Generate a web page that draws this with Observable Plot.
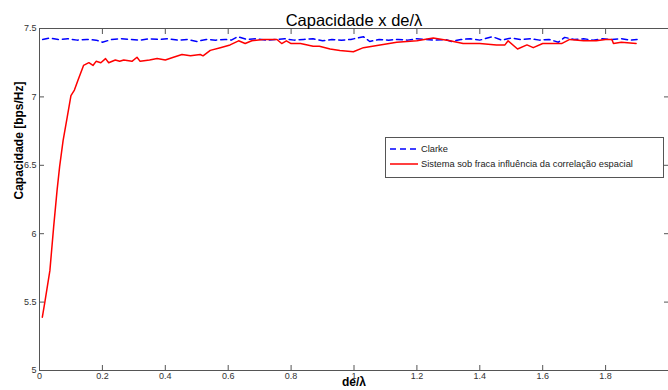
<!DOCTYPE html>
<html><head><meta charset="utf-8">
<script src="https://cdn.jsdelivr.net/npm/d3@7"></script>
<script src="https://cdn.jsdelivr.net/npm/@observablehq/plot@0.6"></script>
<style>body{margin:0;background:#fff}svg{display:block}</style>
</head><body><div id="chart"></div>
<script>
const titleText = "Capacidade x de/λ";
const xLabel = "de/λ";
const yLabel = "Capacidade [bps/Hz]";
const seriesNames = ["Clarke", "Sistema sob fraca influência da correlação espacial"];
const xTicks = [0, 0.2, 0.4, 0.6, 0.8, 1, 1.2, 1.4, 1.6, 1.8];
const xTickLabels = ["0", "0.2", "0.4", "0.6", "0.8", "1", "1.2", "1.4", "1.6", "1.8"];
const yTicks = [5, 5.5, 6, 6.5, 7, 7.5];
const yTickLabels = ["5", "5.5", "6", "6.5", "7", "7.5"];

const blueX = [0.01,0.03,0.06,0.09,0.12,0.15,0.18,0.20,0.23,0.26,0.29,0.32,0.35,0.38,0.41,0.44,0.47,0.50,0.53,0.56,0.59,0.61,0.63,0.66,0.69,0.72,0.75,0.78,0.81,0.84,0.87,0.90,0.93,0.96,0.99,1.03,1.05,1.08,1.11,1.14,1.17,1.20,1.23,1.26,1.29,1.31,1.34,1.37,1.40,1.44,1.47,1.50,1.53,1.56,1.59,1.62,1.65,1.67,1.70,1.73,1.76,1.79,1.82,1.85,1.88,1.90];
const blueY = [7.42,7.43,7.42,7.425,7.415,7.42,7.415,7.40,7.42,7.425,7.42,7.415,7.425,7.42,7.425,7.415,7.42,7.405,7.42,7.415,7.42,7.415,7.44,7.42,7.425,7.415,7.42,7.425,7.415,7.42,7.425,7.41,7.42,7.415,7.42,7.44,7.405,7.42,7.415,7.42,7.415,7.425,7.42,7.415,7.42,7.405,7.42,7.425,7.415,7.44,7.415,7.43,7.42,7.425,7.415,7.42,7.40,7.435,7.42,7.425,7.415,7.425,7.42,7.425,7.415,7.42];

const redX = [0.009,0.017,0.033,0.045,0.056,0.064,0.075,0.088,0.10,0.111,0.122,0.14,0.157,0.17,0.18,0.195,0.21,0.22,0.241,0.255,0.268,0.294,0.31,0.32,0.35,0.374,0.40,0.426,0.453,0.48,0.511,0.52,0.543,0.575,0.606,0.633,0.654,0.675,0.712,0.755,0.77,0.785,0.80,0.83,0.87,0.89,0.924,0.955,0.998,1.03,1.083,1.136,1.2,1.252,1.305,1.347,1.40,1.453,1.48,1.49,1.52,1.55,1.57,1.60,1.64,1.66,1.686,1.73,1.77,1.80,1.82,1.825,1.85,1.897];
const redY = [5.39,5.50,5.73,6.05,6.32,6.49,6.68,6.85,7.01,7.05,7.12,7.23,7.25,7.23,7.26,7.25,7.28,7.25,7.27,7.26,7.27,7.26,7.29,7.26,7.27,7.28,7.27,7.29,7.31,7.30,7.31,7.30,7.34,7.36,7.38,7.41,7.39,7.41,7.42,7.42,7.39,7.41,7.39,7.39,7.37,7.37,7.35,7.34,7.33,7.36,7.38,7.40,7.41,7.43,7.41,7.39,7.39,7.38,7.38,7.41,7.35,7.38,7.36,7.39,7.39,7.39,7.42,7.41,7.41,7.42,7.42,7.39,7.40,7.39];

const blue = blueX.map((x, i) => ({x, y: blueY[i]}));
const red = redX.map((x, i) => ({x, y: redY[i]}));
const font = "Liberation Sans, Arial, sans-serif";
const axisColor = "#555";

const plot = Plot.plot({
  width: 668, height: 390,
  marginLeft: 39, marginRight: 0, marginTop: 28, marginBottom: 20,
  style: {fontFamily: font, fontSize: "9px", color: "#333", background: "#fff"},
  x: {domain: [0, 2]},
  y: {domain: [5, 7.5]},
  marks: [
    Plot.frame({stroke: axisColor}),
    Plot.axisX({anchor: "bottom", ticks: xTicks, tickFormat: (d) => xTickLabels[xTicks.indexOf(d)], tickSize: -5, tickPadding: 7, stroke: axisColor, label: null, fill: "#333"}),
    Plot.axisX({anchor: "top", ticks: xTicks, tickFormat: () => "", tickSize: -5, stroke: axisColor, label: null}),
    Plot.axisY({anchor: "left", ticks: yTicks, tickFormat: (d) => yTickLabels[yTicks.indexOf(d)], tickSize: -5, tickPadding: 8, stroke: axisColor, label: null, fill: "#333"}),
    Plot.axisY({anchor: "right", ticks: yTicks, tickFormat: () => "", tickSize: -5, stroke: axisColor, label: null}),
    Plot.line(blue, {x: "x", y: "y", stroke: "#0000ff", strokeWidth: 1.5, strokeDasharray: "6,4"}),
    Plot.line(red, {x: "x", y: "y", stroke: "#ff0000", strokeWidth: 1.5}),
    Plot.text([titleText], {text: (d) => d, frameAnchor: "top", dy: -14, fontSize: 16.5, fill: "#000"}),
    Plot.text([xLabel], {text: (d) => d, frameAnchor: "bottom", dy: 15, fontSize: 12, fontWeight: "bold", fill: "#000"}),
    Plot.text([yLabel], {text: (d) => d, frameAnchor: "left", dx: -20, rotate: -90, fontSize: 12, fontWeight: "bold", fill: "#000"})
  ]
});
document.getElementById("chart").append(plot);

// legend box
const svg = d3.select(plot);
const lg = svg.append("g").attr("font-family", font).attr("font-size", 9.3).attr("text-anchor", "start");
lg.append("rect").attr("x", 385.5).attr("y", 137.5).attr("width", 278).attr("height", 40).attr("fill", "#fff").attr("stroke", axisColor);
const legendColors = ["#0000ff", "#ff0000"];
const legendDash = ["6,4", null];
seriesNames.forEach((name, i) => {
  const yy = 149 + i * 15;
  lg.append("line").attr("x1", 390).attr("x2", 418).attr("y1", yy).attr("y2", yy)
    .attr("stroke", legendColors[i]).attr("stroke-width", 1.5).attr("stroke-dasharray", legendDash[i]);
  lg.append("text").attr("x", 421).attr("y", yy).attr("dy", "0.35em").attr("text-anchor", "start").attr("fill", "#222").text(name);
});
</script></body></html>
